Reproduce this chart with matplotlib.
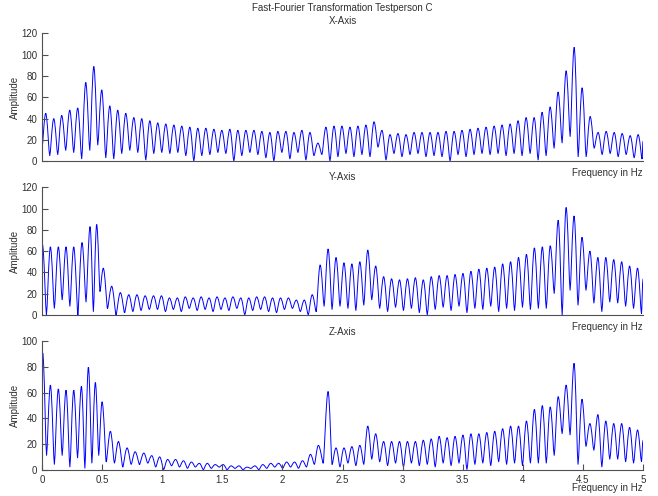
import numpy as np
import matplotlib
matplotlib.use("Agg")
import matplotlib.pyplot as plt
from matplotlib.path import Path
from matplotlib.patches import PathPatch

plt.rcParams['font.family'] = ['Liberation Sans', 'DejaVu Sans']

# --- data: peak frequencies (Hz), peak and trough amplitudes ---
x_start, x_end = 12, 19
x_peak_f = [0.031, 0.098, 0.164, 0.231, 0.297, 0.364, 0.431, 0.497, 0.564, 0.630,
            0.697, 0.764, 0.830, 0.897, 0.963, 1.030, 1.097, 1.163, 1.230, 1.296,
            1.363, 1.430, 1.496, 1.563, 1.629, 1.696, 1.763, 1.829, 1.896, 1.962,
            2.029, 2.096, 2.162, 2.229, 2.295, 2.362, 2.429, 2.495, 2.562, 2.628,
            2.695, 2.762, 2.828, 2.895, 2.961, 3.028, 3.095, 3.161, 3.228, 3.294,
            3.361, 3.428, 3.494, 3.561, 3.627, 3.694, 3.761, 3.827, 3.894, 3.960,
            4.027, 4.094, 4.160, 4.227, 4.293, 4.360, 4.427, 4.493, 4.560, 4.626,
            4.693, 4.760, 4.826, 4.893, 4.959]
x_peaks = [45, 40, 43, 48, 50, 74, 89, 67, 52, 48, 45, 41, 40, 38, 36, 35, 34, 33, 32, 31,
           31, 30, 29, 30, 29, 29, 29, 28, 27, 28, 28, 27, 29, 27, 17, 32,
           33, 33, 32, 33, 34, 37, 29, 25, 26, 25, 27, 27, 27, 27, 28, 28, 29, 30, 31, 32,
           33, 34, 35, 38, 41, 41, 46, 51, 65, 85, 107, 69, 42, 27, 28, 27, 26, 24, 25]
x_troughs = [5, 6, 10, 8, 2, 10, 15, 3, 2, 7, 10, 8, 1, 7, 8, 7, 8, 5, 0, 5,
             6, 8, 7, 0, 5, 8, 6, 3, 0, 8, 2, 8, 1, 5, 6, 0,
             4, 7, 4, 6, 4, 13, 1, 7, 4, 6, 7, 4, 5, 4, 0, 6, 4, 6, 7, 6, 7, 5, 7, 5,
             7, 1, 5, 12, 17, 23, 4, 4, 12, 6, 7, 4, 6, 3, 2]

y_start, y_end = 60, 34
y_peak_f = [0.004, 0.070, 0.136, 0.200, 0.264, 0.333, 0.400, 0.455, 0.510, 0.580,
            0.652, 0.722, 0.790, 0.858, 0.928, 0.994, 1.060, 1.126, 1.192, 1.258,
            1.324, 1.390, 1.456, 1.522, 1.588, 1.654, 1.720, 1.786, 1.852, 1.918,
            1.984, 2.050, 2.116, 2.182, 2.248, 2.314, 2.380, 2.446, 2.512, 2.578,
            2.644, 2.710, 2.776, 2.842, 2.908, 2.974, 3.040, 3.106, 3.172, 3.238,
            3.304, 3.370, 3.436, 3.502, 3.568, 3.634, 3.700, 3.766, 3.832, 3.898,
            3.964, 4.030, 4.096, 4.162, 4.228, 4.294, 4.360, 4.426, 4.492, 4.558,
            4.624, 4.690, 4.756, 4.822, 4.888, 4.954]
y_peaks = [66, 64, 64, 64, 64, 68, 83, 85, 44, 27, 21, 19, 19, 18, 18, 18, 16, 16, 17, 16,
           17, 16, 17, 16, 17, 16, 16, 17, 17, 16, 16, 16, 14, 14, 19, 47, 62, 54, 49, 48,
           50, 61, 46, 36, 34, 33, 34, 35, 33, 36, 37, 37, 38, 39, 41, 43, 44, 45, 48, 50,
           54, 57, 63, 64, 65, 89, 101, 93, 73, 60, 54, 54, 52, 50, 46, 44]
y_troughs = [0, 6, 14, 8, 0, 12, 3, 22, 6, 0, 2, 3, 4, 5, 5, 3, 5, 3, 6, 4,
             5, 3, 5, 4, 6, 0, 4, 5, 3, 2, 5, 6, 3, 0, 3, 8, 5, 8, 6, 4,
             9, 14, 6, 3, 7, 4, 6, 2, 0, 5, 7, 4, 8, 2, 6, 5, 8, 3, 6, 4,
             7, 5, 6, 6, 20, 0, 23, 9, 23, 11, 3, 12, 11, 8, 6, 1]

z_start, z_end = 86, 23
z_peak_f = [0.006, 0.070, 0.136, 0.200, 0.264, 0.328, 0.386, 0.444, 0.500, 0.569,
            0.636, 0.708, 0.775, 0.847, 0.913, 0.979, 1.045, 1.111, 1.177, 1.243,
            1.309, 1.375, 1.441, 1.507, 1.573, 1.639, 1.705, 1.771, 1.837, 1.903,
            1.969, 2.035, 2.101, 2.167, 2.233, 2.299, 2.380, 2.446, 2.512, 2.578,
            2.644, 2.710, 2.776, 2.842, 2.908, 2.974, 3.040, 3.106, 3.172, 3.238,
            3.304, 3.370, 3.436, 3.502, 3.568, 3.634, 3.700, 3.766, 3.832, 3.898,
            3.964, 4.030, 4.096, 4.162, 4.228, 4.294, 4.360, 4.426, 4.492, 4.558,
            4.624, 4.690, 4.756, 4.822, 4.888, 4.954]
z_peaks = [91, 66, 63, 62, 62, 65, 80, 68, 53, 30, 22, 17, 14, 13,
           11, 10, 8, 8, 7, 6, 5, 5, 4, 4, 3, 3, 2, 3, 4, 5, 5, 6, 6, 7, 12, 19,
           61, 17, 17, 18, 19, 34, 28, 22, 22, 22, 22, 22, 23,
           24, 26, 25, 26, 27, 28, 28, 29, 30, 32, 34, 34, 38, 47, 50, 49, 57, 66, 83, 55,
           36, 43, 38, 36, 36, 33, 31]
z_troughs = [11, 4, 11, 2, 9, 1, 5, 11, 6, 5, 2, 4, 4, 5, 2, 0, 3, 2, 1, 2,
             0, 1, 2, 0, 1, 0, 1, 0, 1, 2, 1, 2, 1, 2, 4, 5, 4, 2, 5, 3,
             4, 8, 6, 3, 5, 2, 5, 3, 4, 2, 5, 3, 5, 0, 4, 5, 3, 6, 4, 5,
             3, 5, 5, 5, 11, 28, 27, 4, 18, 15, 2, 8, 8, 6, 5, 6]


def build_line(start, peak_f, peaks, troughs, end):
    # troughs sit half way between neighbouring peaks
    pf = np.array(peak_f)
    gaps = np.diff(pf)
    tf = np.append(pf[:-1] + gaps / 2, pf[-1] + gaps[-1] / 2)
    n = len(peaks)
    f = np.empty(2 * n)
    a = np.empty(2 * n)
    f[0::2], f[1::2] = pf, tf[:n]
    a[0::2], a[1::2] = peaks, troughs[:n]
    keep = f < 5
    f = np.concatenate([[0], f[keep], [5]])
    a = np.concatenate([[start], a[keep], [end]])
    return f, a


def wave_path(f, a, k_top=0.38, k_low=0.18):
    # cubic segments with flat tangents: broad tops, narrower dips
    verts = [(f[0], a[0])]
    codes = [Path.MOVETO]
    for i in range(len(f) - 1):
        d = f[i + 1] - f[i]
        k0 = k_top if a[i] >= a[i + 1] else k_low
        k1 = k_top if a[i + 1] > a[i] else k_low
        verts += [(f[i] + k0 * d, a[i]), (f[i + 1] - k1 * d, a[i + 1]), (f[i + 1], a[i + 1])]
        codes += [Path.CURVE4] * 3
    return Path(verts, codes)


series = [
    ("Fast-Fourier Transformation Testperson C\nX-Axis",
     build_line(x_start, x_peak_f, x_peaks, x_troughs, x_end), 120),
    ("Y-Axis", build_line(y_start, y_peak_f, y_peaks, y_troughs, y_end), 120),
    ("Z-Axis", build_line(z_start, z_peak_f, z_peaks, z_troughs, z_end), 100),
]

axis_col = '#505050'
text_col = '#303030'
fig = plt.figure(figsize=(6.58, 4.96), dpi=100)
boxes = [(0.0638, 0.675, 0.9135, 0.2575),
         (0.0638, 0.365, 0.9135, 0.2575),
         (0.0638, 0.053, 0.9135, 0.2585)]

for i, (title, (f, a), ymax) in enumerate(series):
    ax = fig.add_axes(boxes[i])
    ax.add_patch(PathPatch(wave_path(f, a), fill=False, edgecolor='#0000ff', lw=0.7))
    ax.set_xlim(0, 5)
    ax.set_ylim(0, ymax)
    ax.set_yticks(np.arange(0, ymax + 1, 20))
    for s in ('top', 'right'):
        ax.spines[s].set_visible(False)
    for s in ('left', 'bottom'):
        ax.spines[s].set_color(axis_col)
        ax.spines[s].set_linewidth(0.8)
    ax.tick_params(direction='in', length=4, width=0.8, colors=axis_col,
                   labelcolor=text_col, labelsize=7)
    if i < 2:
        ax.tick_params(axis='x', bottom=False, labelbottom=False)
        ax.set_xlabel('Frequency in Hz', loc='right', fontsize=7, color=text_col, labelpad=5)
    else:
        ax.set_xticks(np.arange(0, 5.01, 0.5))
        ax.set_xticklabels(['0', '0.5', '1', '1.5', '2', '2.5', '3', '3.5', '4', '4.5', '5'])
        ax.set_xlabel('Frequency in Hz', loc='right', fontsize=7, color=text_col, labelpad=-1)
    ax.set_ylabel('Amplitude', fontsize=7, color=text_col, labelpad=1)
    if i == 0:
        ax.set_title(title, fontsize=7, color=text_col, pad=7, linespacing=1.35)
    else:
        ax.set_title(title, fontsize=7, color=text_col, pad=5)

fig.savefig('out.png', dpi=100)
